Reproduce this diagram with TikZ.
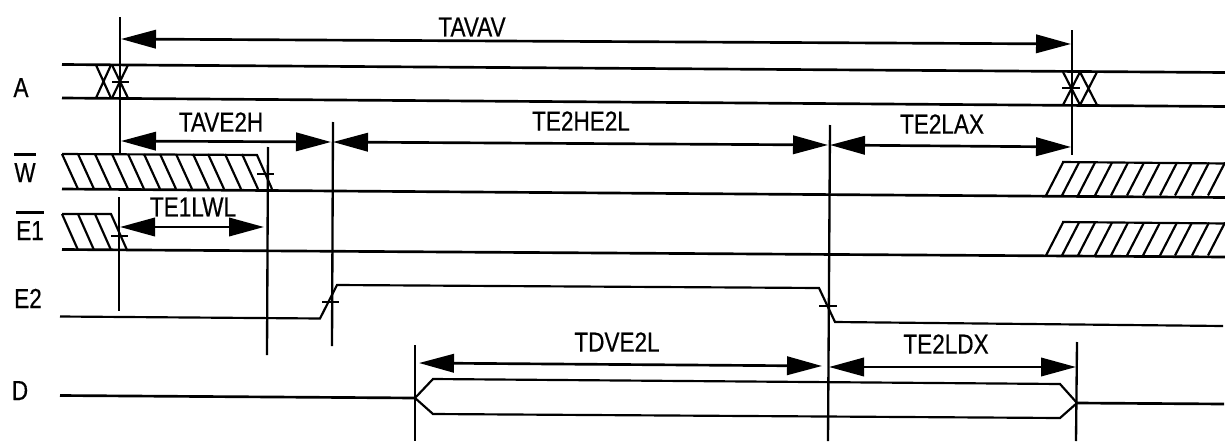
\documentclass[tikz,border=0pt]{standalone}
\usepackage{fontspec}
\setmainfont[FakeStretch=0.82,FakeBold=0.5]{Liberation Sans}
\usepackage{tikz}
\usetikzlibrary{arrows.meta, positioning}
\newcommand{\barsig}[1]{\vbox{\hrule height 1.5pt\kern 4.4pt\hbox{#1}}}

\begin{document}
\begin{tikzpicture}[x=0.6pt,y=-0.6pt]
    \tikzstyle{every node} = [font=\fontsize{16.5}{18}\selectfont, inner sep=0pt]
    \tikzstyle{sigName} = [anchor=base]
    \tikzstyle{wire} = [line width=1.6pt, line join=miter]
    \tikzstyle{thinwire} = [line width=1.3pt, line join=miter]
    \tikzstyle{hatch} = [line width=1.3pt]
    \tikzstyle{guide} = [line width=1.4pt]
    \tikzstyle{tickmark} = [line width=1.6pt]
    \tikzstyle{span} = [line width=1.6pt, {Triangle[length=21pt,width=11pt]}-{Triangle[length=21pt,width=11pt]}]
    \useasboundingbox (0,0) rectangle (1225,443);

    % place nodes
    \node[sigName] (sigA) at (21,97) {A};
    \node[sigName] (sigW) at (25,182) {\barsig{W}};
    \node[sigName] (sigE1) at (30,240) {\barsig{E1}};
    \node[sigName] (sigE2) at (28,308) {E2};
    \node[sigName] (sigD) at (20,400) {D};
    \node (tavav) at (472,27) {TAVAV};
    \node (tave2h) at (221,122) {TAVE2H};
    \node (te2he2l) at (581,121) {TE2HE2L};
    \node (te2lax) at (942,124) {TE2LAX};
    \node (te1lwl) at (193,207) {TE1LWL};
    \node (tdve2l) at (617,342) {TDVE2L};
    \node (te2ldx) at (946,344) {TE2LDX};

    % edges of the guide lines
    \coordinate (g1top) at (120,17);
    \coordinate (g1mid) at (120,153);
    \coordinate (g1low) at (119,197);
    \coordinate (g1bot) at (119,311);
    \coordinate (g2top) at (268,147);
    \coordinate (g2bot) at (267,355);
    \coordinate (g3top) at (333,122);
    \coordinate (g3bot) at (332,346);
    \coordinate (g4top) at (830,125);
    \coordinate (g4bot) at (828,441);
    \coordinate (g5top) at (1072,30);
    \coordinate (g5bot) at (1072,155);
    \coordinate (g6top) at (415,345);
    \coordinate (g6bot) at (415,441);
    \coordinate (g7top) at (1077,342);
    \coordinate (g7bot) at (1076,441);

    % Guides
    \draw[guide] (g1top)--(g1mid);
    \draw[guide] (g1low)--(g1bot);
    \draw[guide] (g2top)--(g2bot);
    \draw[guide] (g3top)--(g3bot);
    \draw[guide] (g4top)--(g4bot);
    \draw[guide] (g5top)--(g5bot);
    \draw[guide] (g6top)--(g6bot);
    \draw[guide] (g7top)--(g7bot);

    % Spans
    \coordinate (avL) at (121,39);
    \coordinate (avR) at (1071,44);
    \coordinate (ahL) at (121,141);
    \coordinate (ahR) at (331,142);
    \coordinate (hlL) at (333,142);
    \coordinate (hlR) at (828,145);
    \coordinate (axL) at (830,145);
    \coordinate (axR) at (1071,147);
    \coordinate (wlL) at (120,227);
    \coordinate (wlR) at (264,227);
    \coordinate (dlL) at (419,363);
    \coordinate (dlR) at (822,366);
    \coordinate (dxL) at (829,367);
    \coordinate (dxR) at (1076,367);
    \draw[span] (avL)--(avR);
    \draw[span] (ahL)--(ahR);
    \draw[span] (hlL)--(hlR);
    \draw[span] (axL)--(axR);
    \draw[span] (wlL)--(wlR);
    \draw[span] (dlL)--(dlR);
    \draw[span] (dxL)--(dxR);

    % Signal A
    \draw[wire] (62,64.5)--(1225,72.5);
    \draw[wire] (62,98)--(1225,106.5);
    \draw[hatch] (96,98)--(111,65) (96,65)--(111,98);
    \draw[hatch] (112,98)--(128,65) (112,65)--(128,98);
    \draw[hatch] (1063,105)--(1080,72) (1063,72)--(1080,105);
    \draw[hatch] (1080,105)--(1097,72) (1080,72)--(1097,105);
    \draw[tickmark] (112,82)--(129,82);
    \draw[tickmark] (1062,88)--(1080,88);

    % Signal W
    \draw[wire] (62,189)--(1225,197.5);
    \draw[hatch] (62,154)--(257,155)--(272,189);
    \foreach \x in {62,78,95,112,128,144,160,176,193,208,225,242}
        \draw[hatch] (\x,154)--++(16,35);
    \draw[tickmark] (257,174)--(274,174);
    \draw[hatch] (1062,162)--(1225,163.5);
    \foreach \x in {1046,1062,1078,1095,1111,1127,1143,1160,1175,1192,1208}
        \draw[hatch] (\x,195.5)--++(17,-33);

    % Signal E1
    \draw[wire] (62,249.5)--(1225,257);
    \draw[hatch] (62,214)--(111,214)--(127,250);
    \foreach \x in {62,78,95}
        \draw[hatch] (\x,214)--++(16,36);
    \draw[tickmark] (111,236)--(128,236);
    \draw[hatch] (1062,222)--(1225,223.5);
    \foreach \x in {1046,1062,1078,1095,1111,1127,1143,1160,1175,1192,1208}
        \draw[hatch] (\x,255.5)--++(17,-33);

    % Signal E2
    \draw[thinwire] (60,316.5)--(320,318.5)--(337,285)--(819,288)--(835,322)--(1223,326);
    \draw[tickmark] (322,302)--(339,302);
    \draw[tickmark] (819,306)--(837,306);

    % Signal D
    \draw[wire] (60,395.5)--(415,398);
    \draw[thinwire] (415,398)--(433,379)--(1060,384)--(1077,403)--(1060,418)--(433,414)--cycle;
    \draw[wire] (1077,403)--(1224,404);
\end{tikzpicture}
\end{document}
